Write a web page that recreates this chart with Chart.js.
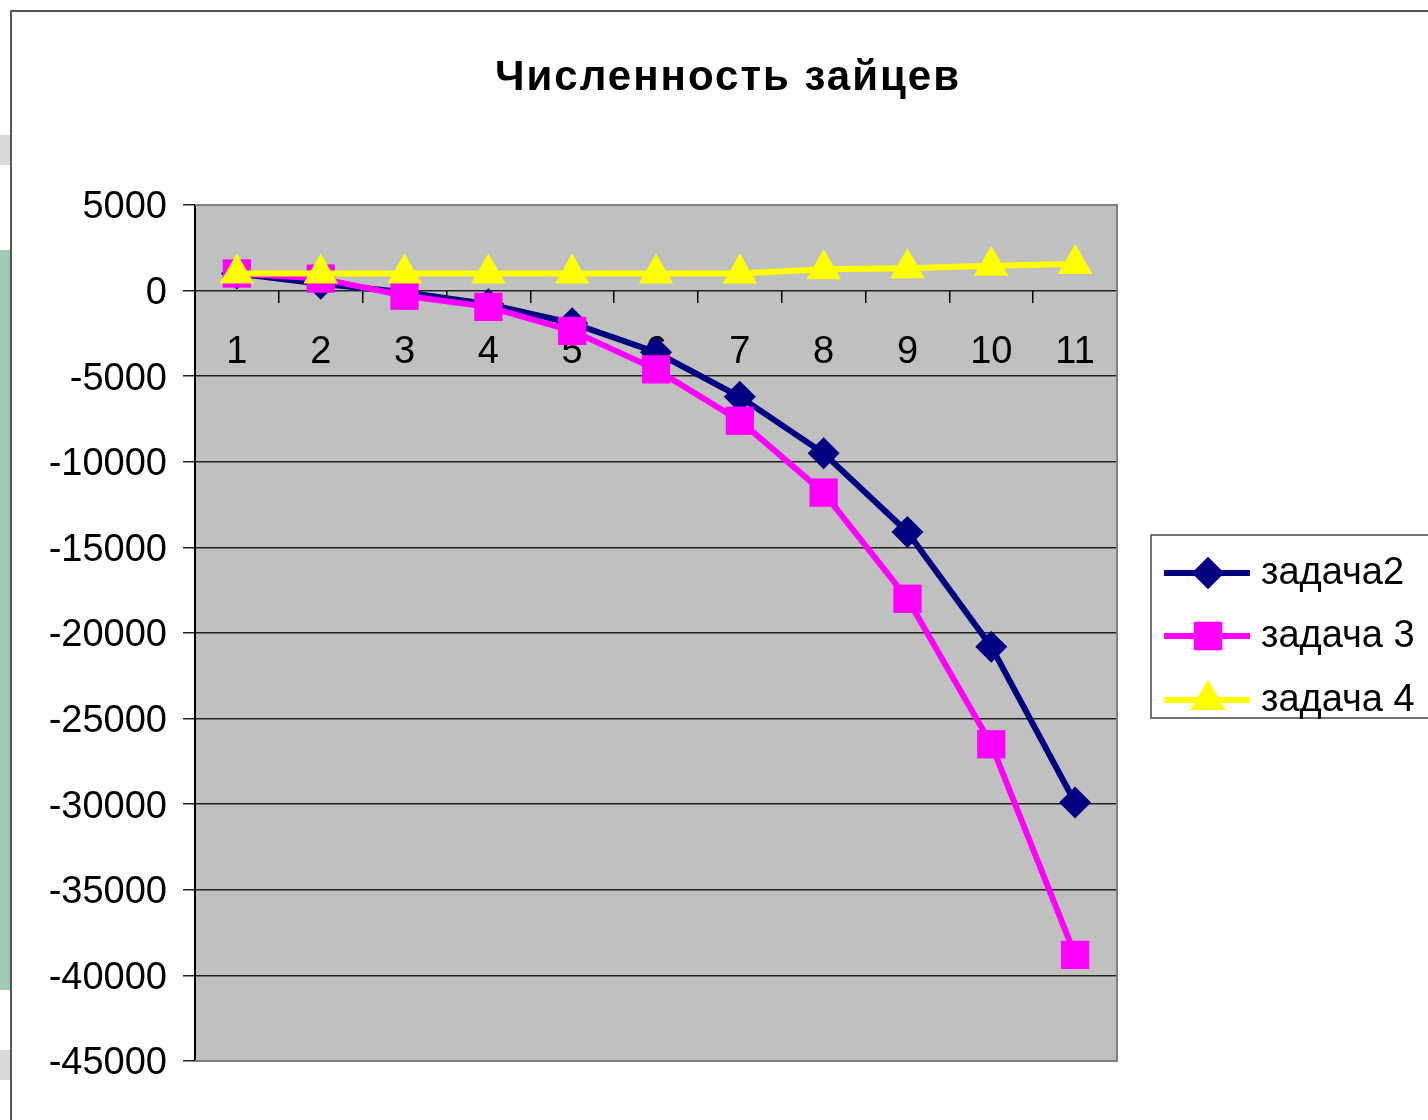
<!DOCTYPE html>
<html>
<head>
<meta charset="utf-8">
<script src="https://cdn.jsdelivr.net/npm/chart.js@4/dist/chart.umd.min.js"></script>
<style>
  html, body { margin: 0; padding: 0; background: #fff; }
  #wrap { position: relative; width: 1428px; height: 1120px; }
</style>
</head>
<body>
<div id="wrap"><canvas id="c" width="1428" height="1120"></canvas></div>
<script>
// Данные
const labels = ['1', '2', '3', '4', '5', '6', '7', '8', '9', '10', '11'];
const zadacha2 = [1000, 400, -100, -800, -1900, -3600, -6200, -9500, -14100, -20800, -29900];
const zadacha3 = [1000, 700, -300, -950, -2350, -4600, -7600, -11800, -18000, -26500, -38800];
const zadacha4 = [1000, 1000, 1000, 1000, 1000, 1000, 1000, 1250, 1300, 1450, 1550];
const yMin = -45000, yMax = 5000, yStep = 5000;

const title = 'Численность зайцев';
const FONT = '"Liberation Sans", Arial, sans-serif';

// фон области построения + рамка
const plotBg = {
    id: 'plotBg',
    beforeDraw(chart) {
        const {ctx, chartArea: a} = chart;
        ctx.save();
        // полоска слева (фон слайда)
        ctx.fillStyle = '#d9d9d9';
        ctx.fillRect(0, 135, 10, 30);
        ctx.fillRect(0, 1050, 10, 30);
        ctx.fillStyle = '#9fcab4';
        ctx.fillRect(0, 250, 10, 740);
        // внешняя рамка
        ctx.strokeStyle = '#555';
        ctx.lineWidth = 2;
        ctx.beginPath();
        ctx.moveTo(11, 1120);
        ctx.lineTo(11, 11);
        ctx.lineTo(1428, 11);
        ctx.stroke();
        ctx.fillStyle = '#c0c0c0';
        ctx.fillRect(a.left, a.top, a.right - a.left, a.bottom - a.top);
        ctx.restore();
    },
    afterDatasetsDraw(chart) {
        const {ctx, chartArea: a} = chart;
        ctx.save();
        ctx.strokeStyle = '#808080';
        ctx.lineWidth = 2;
        ctx.beginPath();
        ctx.moveTo(a.left, a.top);
        ctx.lineTo(a.right, a.top);
        ctx.lineTo(a.right, a.bottom);
        ctx.lineTo(a.left, a.bottom);
        ctx.stroke();
        ctx.restore();
    },
    afterDraw(chart) {
        const ctx = chart.ctx;
        ctx.save();
        ctx.fillStyle = '#000';
        ctx.font = 'bold 42px ' + FONT;
        ctx.letterSpacing = '2px';
        ctx.textAlign = 'center';
        ctx.textBaseline = 'middle';
        ctx.fillText(title, 728, 78);
        ctx.restore();
    }
};

// легенда справа
const sideLegend = {
    id: 'sideLegend',
    afterDraw(chart) {
        const ctx = chart.ctx;
        ctx.save();
        ctx.fillStyle = '#fff';
        ctx.fillRect(1151, 535, 300, 183);
        ctx.strokeStyle = '#444';
        ctx.lineWidth = 1.5;
        ctx.strokeRect(1151, 535, 300, 183);
        const rows = [573, 636, 700];
        chart.data.datasets.forEach((ds, i) => {
            const y = rows[i];
            ctx.strokeStyle = ds.borderColor;
            ctx.lineWidth = ds.borderWidth;
            ctx.beginPath();
            ctx.moveTo(1164, y);
            ctx.lineTo(1250, y);
            ctx.stroke();
            ctx.fillStyle = ds.pointBackgroundColor;
            Chart.helpers.drawPoint(ctx, {
                pointStyle: ds.pointStyle,
                radius: ds.pointRadius,
                borderWidth: 0,
                rotation: 0
            }, 1208, y);
            ctx.fill();
            ctx.fillStyle = '#000';
            ctx.font = '38px ' + FONT;
            ctx.textAlign = 'left';
            ctx.textBaseline = 'middle';
            ctx.fillText(ds.label, 1261, y + 1);
        });
        ctx.restore();
    }
};

new Chart(document.getElementById('c'), {
    type: 'line',
    data: {
        labels: labels,
        datasets: [
            {
                label: 'задача2', data: zadacha2, order: 3,
                borderColor: '#000080', pointBackgroundColor: '#000080',
                borderWidth: 6, pointStyle: 'rectRot', pointRadius: 16, pointBorderWidth: 0
            },
            {
                label: 'задача 3', data: zadacha3, order: 2,
                borderColor: '#ff00ff', pointBackgroundColor: '#ff00ff',
                borderWidth: 6, pointStyle: 'rect', pointRadius: 20, pointBorderWidth: 0
            },
            {
                label: 'задача 4', data: zadacha4, order: 1,
                borderColor: '#ffff00', pointBackgroundColor: '#ffff00',
                borderWidth: 6, pointStyle: 'triangle', pointRadius: 20, pointBorderWidth: 0
            }
        ]
    },
    options: {
        responsive: false,
        animation: false,
        layout: { padding: { left: 0, top: 205, right: 311, bottom: 59 } },
        plugins: {
            legend: { display: false },
            title: { display: false },
            tooltip: { enabled: false }
        },
        elements: { line: { tension: 0 } },
        scales: {
            x: {
                type: 'category',
                position: { y: 0 },
                offset: true,
                z: 1,
                border: { display: false },
                grid: {
                    display: true,
                    drawOnChartArea: false,
                    drawTicks: true,
                    tickLength: 12,
                    offset: true,
                    color: '#000',
                    lineWidth: 1.5
                },
                ticks: {
                    color: '#000',
                    font: { size: 38, family: FONT },
                    padding: 27,
                    maxRotation: 0
                }
            },
            y: {
                min: yMin,
                max: yMax,
                afterFit(scale) { scale.width = 195; },
                border: { display: true, color: '#000', width: 2 },
                grid: {
                    color: '#222',
                    lineWidth: 1.5,
                    tickLength: 12,
                    drawTicks: true
                },
                ticks: {
                    stepSize: yStep,
                    color: '#000',
                    font: { size: 38, family: FONT },
                    padding: 16,
                    labelOffset: 3,
                    callback: v => String(v)
                }
            }
        }
    },
    plugins: [plotBg, sideLegend]
});
</script>
</body>
</html>
